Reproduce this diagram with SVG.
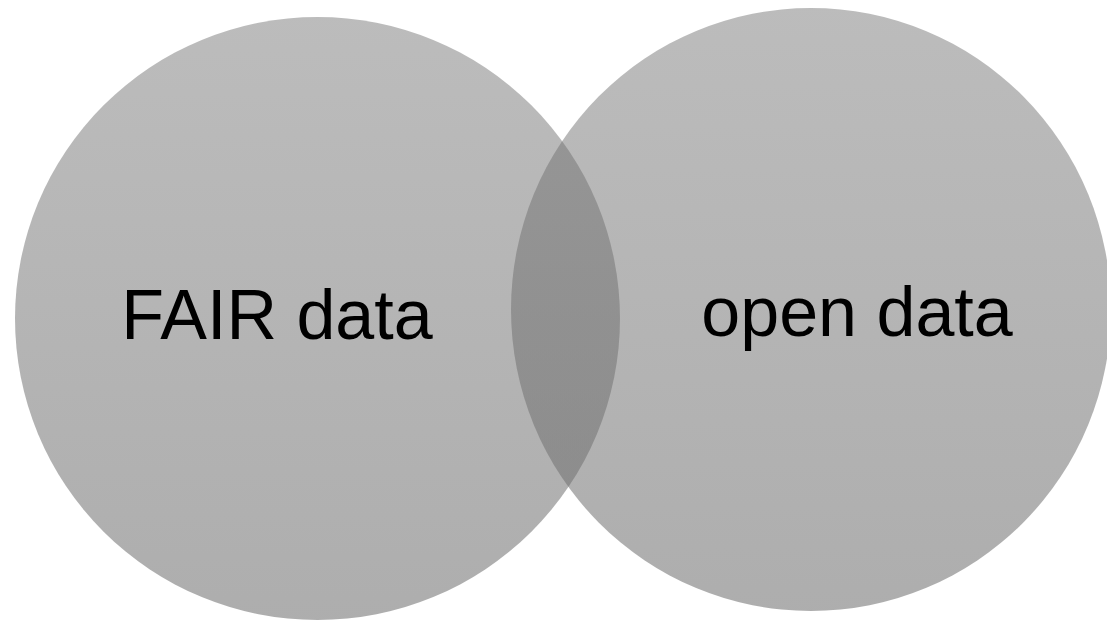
<svg xmlns="http://www.w3.org/2000/svg" width="1107" height="621" viewBox="0 0 1107 621">
  <defs>
    <linearGradient id="g" x1="0" y1="0" x2="0" y2="1">
      <stop offset="0" stop-color="#707070" stop-opacity="0.47"/>
      <stop offset="1" stop-color="#707070" stop-opacity="0.57"/>
    </linearGradient>
    <style>
      .c { fill: url(#g); }
      .t { font-family: "Liberation Sans", Arial, sans-serif; font-size: 70px; fill: #000; text-anchor: middle; }
    </style>
  </defs>
  <rect width="1107" height="621" fill="#fff"/>
  <g id="fair">
    <ellipse class="c" cx="317.5" cy="318.5" rx="302.5" ry="301.5"/>
    <text class="t" x="277" y="339">FAIR data</text>
  </g>
  <g id="open">
    <ellipse class="c" cx="811" cy="309.5" rx="300" ry="301.5"/>
    <text class="t" x="857" y="336">open data</text>
  </g>
  <g id="connectors"/>
</svg>
